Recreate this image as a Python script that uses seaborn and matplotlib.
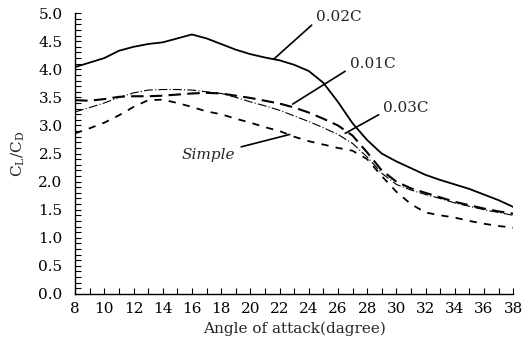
import numpy as np
import pandas as pd
import matplotlib
matplotlib.use("Agg")
import matplotlib.pyplot as plt
from matplotlib.ticker import MultipleLocator, FormatStrFormatter
import seaborn as sns

angles = list(range(8, 39))
c002 = [4.04, 4.12, 4.20, 4.33, 4.40, 4.45, 4.48, 4.55, 4.62, 4.55, 4.45, 4.35, 4.27, 4.21, 4.16,
        4.08, 3.97, 3.76, 3.42, 3.04, 2.74, 2.50, 2.36, 2.24, 2.12, 2.03, 1.95, 1.87, 1.77, 1.67, 1.55]
c001 = [3.45, 3.44, 3.47, 3.51, 3.52, 3.52, 3.53, 3.55, 3.57, 3.58, 3.57, 3.53, 3.49, 3.44, 3.39,
        3.32, 3.23, 3.12, 3.00, 2.82, 2.52, 2.20, 2.00, 1.88, 1.80, 1.72, 1.64, 1.58, 1.52, 1.47, 1.43]
c003 = [3.24, 3.32, 3.40, 3.50, 3.58, 3.63, 3.64, 3.64, 3.63, 3.60, 3.57, 3.50, 3.42, 3.35, 3.27,
        3.17, 3.07, 2.96, 2.84, 2.68, 2.44, 2.15, 1.95, 1.85, 1.77, 1.70, 1.62, 1.56, 1.50, 1.45, 1.40]
simple = [2.86, 2.95, 3.05, 3.18, 3.33, 3.45, 3.46, 3.40, 3.33, 3.25, 3.20, 3.12, 3.05, 2.97, 2.90,
          2.80, 2.72, 2.66, 2.60, 2.55, 2.40, 2.10, 1.82, 1.60, 1.45, 1.40, 1.36, 1.30, 1.25, 1.21, 1.18]

labels = ["0.02C", "0.01C", "0.03C", "Simple"]
# annotation: (text position x, y), (curve point x, y)
label_text_pos = [(24.5, 4.93), (26.8, 4.09), (29.1, 3.31), (15.3, 2.47)]
label_point = [(21.6, 4.18), (22.9, 3.38), (26.5, 2.86), (22.7, 2.84)]

sns.set_style("ticks")
plt.rcParams['font.family'] = ['DejaVu Serif']
plt.rcParams['mathtext.fontset'] = 'dejavuserif'

fig = plt.figure(figsize=(5.29, 3.55), dpi=100)
ax = fig.add_axes([0.142, 0.172, 0.828, 0.791])

series = [c002, c001, c003, simple]
styles = [dict(lw=1.3, ls='-'),
          dict(lw=1.5, ls=(0, (6, 3))),
          dict(lw=0.8, ls=(0, (8, 2, 1, 2))),
          dict(lw=1.3, ls=(0, (4, 4)))]
for lab, vals, st in zip(labels, series, styles):
    df = pd.DataFrame({"angle": angles, "ratio": vals})
    sns.lineplot(data=df, x="angle", y="ratio", ax=ax, color="black",
                 linewidth=st['lw'], linestyle=st['ls'])

ax.set_xlim(8, 38)
ax.set_ylim(0, 5.0)
ax.xaxis.set_major_locator(MultipleLocator(2))
ax.xaxis.set_minor_locator(MultipleLocator(1))
ax.yaxis.set_major_locator(MultipleLocator(0.5))
ax.yaxis.set_minor_locator(MultipleLocator(0.1))
ax.yaxis.set_major_formatter(FormatStrFormatter('%.1f'))
ax.tick_params(which='both', direction='in', length=4, width=0.8, labelsize=11, colors='black')
ax.tick_params(axis='x', pad=6)
ax.tick_params(axis='y', pad=9)
for s in ['top', 'right']:
    ax.spines[s].set_visible(False)
for s in ['left', 'bottom']:
    ax.spines[s].set_linewidth(1.0)
    ax.spines[s].set_color('black')

ax.set_xlabel("Angle of attack(dagree)", fontsize=11, labelpad=4)
ax.set_ylabel(r"$\mathrm{C_L/C_D}$", fontsize=11, labelpad=8)

for i, lab in enumerate(labels):
    tx, ty = label_text_pos[i]
    px, py = label_point[i]
    if lab == "Simple":
        ax.annotate(lab, xy=(px, py), xytext=(tx, ty), fontsize=11, style='italic',
                    ha='left', va='center',
                    arrowprops=dict(arrowstyle='-', lw=1.2, color='black', shrinkA=2, shrinkB=0))
    else:
        ax.annotate(lab, xy=(px, py), xytext=(tx, ty), fontsize=11,
                    ha='left', va='center',
                    arrowprops=dict(arrowstyle='-', lw=1.2, color='black', shrinkA=1, shrinkB=0,
                                    relpos=(0, 0.2)))

fig.savefig("out.png", dpi=100)
